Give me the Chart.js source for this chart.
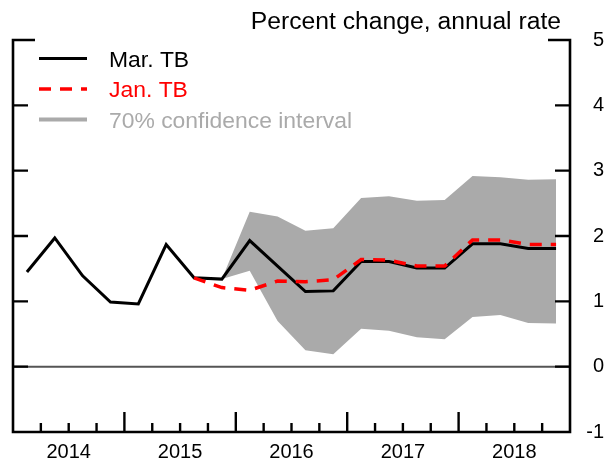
<!DOCTYPE html>
<html><head><meta charset="utf-8">
<script src="https://cdn.jsdelivr.net/npm/chart.js@4/dist/chart.umd.min.js"></script>
<style>html,body{margin:0;padding:0;background:#fff;}#wrap{width:610px;height:464px;}</style>
</head><body><div id="wrap"><canvas id="c" width="610" height="464"></canvas></div>
<script>
// ---- data (quarterly, 2014Q1 .. 2018Q4) ----
const years = ['2014', '2015', '2016', '2017', '2018'];
const quarters = ['2014Q1','2014Q2','2014Q3','2014Q4','2015Q1','2015Q2','2015Q3','2015Q4',
                  '2016Q1','2016Q2','2016Q3','2016Q4','2017Q1','2017Q2','2017Q3','2017Q4',
                  '2018Q1','2018Q2','2018Q3','2018Q4'];
const marTB = [1.45, 1.97, 1.39, 0.99, 0.96, 1.87, 1.36, 1.34, 1.93, 1.54,
               1.15, 1.16, 1.61, 1.61, 1.51, 1.51, 1.88, 1.88, 1.81, 1.81];
const janTB = [null, null, null, null, null, null, 1.36, 1.21, 1.17, 1.31,
               1.30, 1.33, 1.64, 1.63, 1.54, 1.54, 1.94, 1.94, 1.87, 1.87];
const bandUpper = [null, null, null, null, null, null, null, 1.34, 2.37, 2.30,
                   2.08, 2.12, 2.58, 2.61, 2.54, 2.55, 2.92, 2.90, 2.86, 2.87];
const bandLower = [null, null, null, null, null, null, null, 1.34, 1.47, 0.70,
                   0.25, 0.19, 0.58, 0.55, 0.45, 0.42, 0.76, 0.79, 0.67, 0.66];
const seriesNames = ['Mar. TB', 'Jan. TB', '70% confidence interval'];
const yTicks = [-1, 0, 1, 2, 3, 4, 5];
const titleText = 'Percent change, annual rate';

const FONT = '"Liberation Sans", Arial, sans-serif';
const toPts = arr => arr.map((v, i) => (v == null ? null : { x: i + 0.5, y: v })).filter(p => p);

const decor = {
  id: 'decor',
  beforeDatasetsDraw(chart) {
    const { ctx, chartArea: a, scales: { y } } = chart;
    ctx.save();
    ctx.strokeStyle = '#555';
    ctx.lineWidth = 2;
    const y0 = y.getPixelForValue(0);
    ctx.beginPath(); ctx.moveTo(a.left, y0); ctx.lineTo(a.right, y0); ctx.stroke();
    ctx.restore();
  },
  afterDatasetsDraw(chart) {
    const { ctx, chartArea: a, scales: { x, y } } = chart;
    ctx.save();
    ctx.strokeStyle = '#000';
    ctx.lineWidth = 2.6;
    ctx.lineCap = 'butt';
    ctx.lineJoin = 'miter';
    const top = y.getPixelForValue(5), bot = y.getPixelForValue(-1);
    ctx.beginPath();
    ctx.moveTo(a.left + 22, top); ctx.lineTo(a.left, top); ctx.lineTo(a.left, bot);
    ctx.lineTo(a.right, bot); ctx.lineTo(a.right, top); ctx.lineTo(a.right - 22, top);
    ctx.stroke();
    ctx.lineWidth = 2.4;
    yTicks.forEach(v => {
      if (v === 5 || v === -1) return;
      const py = y.getPixelForValue(v);
      ctx.beginPath();
      ctx.moveTo(a.left, py); ctx.lineTo(a.left + 15, py);
      ctx.moveTo(a.right, py); ctx.lineTo(a.right - 15, py);
      ctx.stroke();
    });
    for (let q = 1; q < quarters.length; q++) {
      const px = x.getPixelForValue(q);
      const len = q % 4 === 0 ? 20 : 9;
      ctx.beginPath(); ctx.moveTo(px, bot); ctx.lineTo(px, bot - len); ctx.stroke();
    }
    ctx.restore();
  },
  afterDraw(chart) {
    const { ctx, chartArea: a } = chart;
    ctx.save();
    // title
    ctx.font = '24.7px ' + FONT;
    ctx.fillStyle = '#000';
    ctx.textAlign = 'right';
    ctx.textBaseline = 'alphabetic';
    ctx.fillText(titleText, a.right - 9, 29);
    // legend
    const ds = chart.data.datasets;
    const items = [
      { text: seriesNames[0], color: ds[1].borderColor, dash: [], width: 3, textColor: '#000' },
      { text: seriesNames[1], color: ds[0].borderColor, dash: ds[0].borderDash, width: 3.5, textColor: '#ff0000' },
      { text: seriesNames[2], color: ds[2].backgroundColor, dash: [], width: 4, textColor: '#aaaaaa' }
    ];
    ctx.font = '22.9px ' + FONT;
    ctx.textAlign = 'left';
    items.forEach((it, k) => {
      const cy = 58.5 + k * 30.5;
      ctx.strokeStyle = it.color;
      ctx.lineWidth = it.width;
      ctx.setLineDash(it.dash);
      ctx.beginPath(); ctx.moveTo(39, cy); ctx.lineTo(87, cy); ctx.stroke();
      ctx.setLineDash([]);
      ctx.fillStyle = it.textColor;
      ctx.fillText(it.text, 109, cy + 0.358 * 22.9);
    });
    ctx.restore();
  }
};

new Chart(document.getElementById('c'), {
  type: 'line',
  data: {
    datasets: [
      { label: seriesNames[1], data: toPts(janTB), borderColor: '#ff0000', borderWidth: 3.5,
        borderDash: [12, 9], pointRadius: 0, tension: 0, fill: false },
      { label: seriesNames[0], data: toPts(marTB), borderColor: '#000000', borderWidth: 3,
        pointRadius: 0, tension: 0, fill: false },
      { label: seriesNames[2], data: toPts(bandUpper), borderColor: 'rgba(0,0,0,0)', borderWidth: 0,
        backgroundColor: '#aaaaaa', pointRadius: 0, tension: 0, fill: '+1' },
      { label: 'lower', data: toPts(bandLower), borderColor: 'rgba(0,0,0,0)', borderWidth: 0,
        pointRadius: 0, tension: 0, fill: false }
    ]
  },
  options: {
    responsive: false,
    animation: false,
    devicePixelRatio: 1,
    layout: { padding: { left: 13, right: 6, top: 40, bottom: 0 } },
    plugins: { legend: { display: false }, title: { display: false }, tooltip: { enabled: false } },
    scales: {
      x: {
        type: 'linear', min: 0, max: quarters.length,
        grid: { display: false }, border: { display: false },
        afterBuildTicks: s => { s.ticks = years.map((yr, k) => ({ value: 4 * k + 2 })); },
        afterFit: s => { s.height = 32; },
        ticks: { autoSkip: false, maxRotation: 0, padding: 0, color: '#000',
                 font: { family: FONT, size: 20 },
                 callback: (v) => years[Math.round((v - 2) / 4)] }
      },
      y: {
        position: 'right', min: yTicks[0], max: yTicks[yTicks.length - 1],
        grid: { display: false }, border: { display: false },
        afterFit: s => { s.width = 34; },
        ticks: { stepSize: 1, crossAlign: 'far', padding: 7, color: '#000',
                 font: { family: FONT, size: 20 } }
      }
    }
  },
  plugins: [decor]
});
</script></body></html>
